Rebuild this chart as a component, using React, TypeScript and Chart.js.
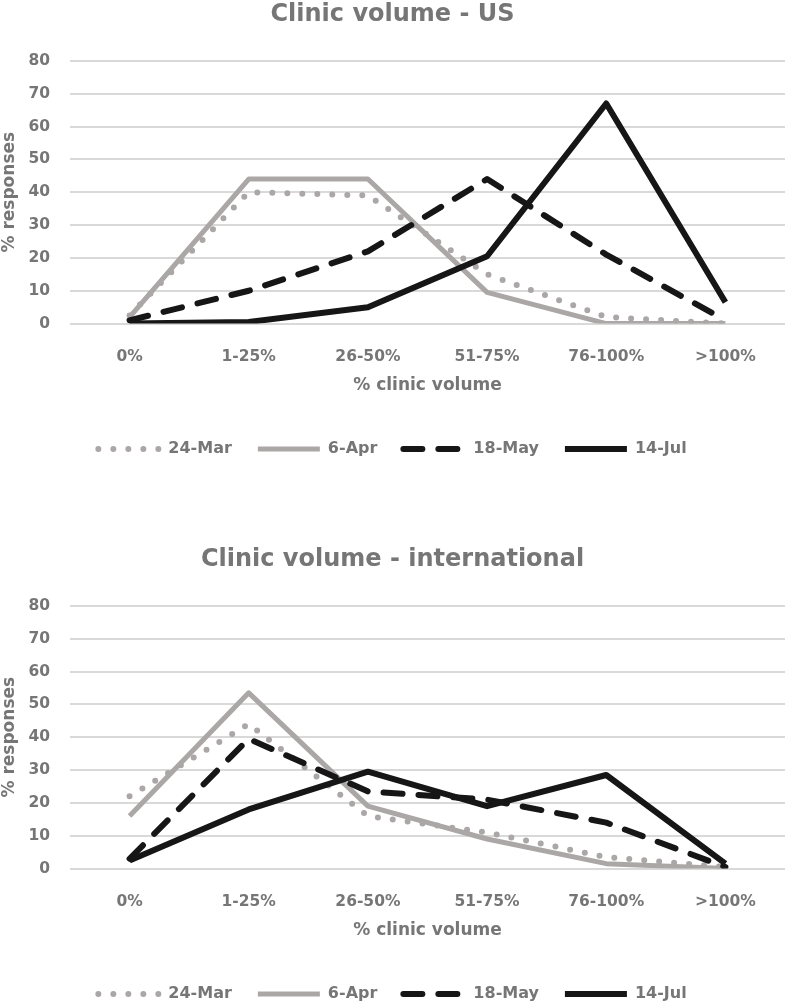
import React, { useEffect, useRef } from 'react';
import { Chart, registerables } from 'chart.js';

Chart.register(...registerables);

// ---- data ----
const categories = ['0%', '1-25%', '26-50%', '51-75%', '76-100%', '>100%'];
const seriesNames = ['24-Mar', '6-Apr', '18-May', '14-Jul'];

const usMar24 = [2.5, 40, 39, 15, 2, 0];
const usApr6 = [2, 44, 44, 9.5, 0, 0];
const usMay18 = [1, 10, 22, 44, 21, 1];
const usJul14 = [0, 0.5, 5, 20.5, 67, 6.5];

const intlMar24 = [22, 44, 16, 11, 3.5, 0.5];
const intlApr6 = [16, 53.5, 19, 9, 1.5, 0];
const intlMay18 = [3, 39.5, 23.5, 21, 14, 0.5];
const intlJul14 = [2.5, 18, 29.5, 19, 28.5, 1.5];

const yMin = 0;
const yMax = 80;
const yStep = 10;

const usTitle = 'Clinic volume - US';
const intlTitle = 'Clinic volume - international';
const xTitle = '% clinic volume';
const yTitle = '% responses';

// ---- styles ----
const FONT = "'DejaVu Sans', sans-serif";
const TEXT = '#767676';
const GRAY = '#aba7a7';
const BLACK = '#161616';
const GRID = '#d9d9d9';

const seriesStyles = [
  { color: GRAY, width: 6, dash: [0, 15], cap: 'round' },
  { color: GRAY, width: 5, dash: [], cap: 'butt' },
  { color: BLACK, width: 6, dash: [19, 16], cap: 'round' },
  { color: BLACK, width: 6, dash: [], cap: 'butt' },
];

function buildConfig(title: string, series: number[][]) {
  const datasets = series.map((values, i) => {
    const s = seriesStyles[i];
    return {
      label: seriesNames[i],
      data: values,
      borderColor: s.color,
      backgroundColor: s.color,
      borderWidth: s.width,
      borderDash: s.dash,
      borderCapStyle: s.cap,
      borderJoinStyle: 'round',
      pointRadius: 0,
      pointHoverRadius: 0,
      tension: 0,
      fill: false,
      order: series.length - i,
    };
  });

  return {
    type: 'line',
    data: { labels: categories, datasets },
    options: {
      responsive: false,
      animation: false,
      devicePixelRatio: 1,
      layout: { padding: { top: 0, left: 0, right: 1, bottom: 0 } },
      plugins: {
        tooltip: { enabled: false },
        title: {
          display: true,
          text: title,
          color: TEXT,
          font: { family: FONT, size: 24, weight: 'bold', lineHeight: 1.2 },
          padding: { top: 0, bottom: 32 },
        },
        legend: {
          display: true,
          position: 'bottom',
          labels: {
            usePointStyle: true,
            pointStyleWidth: 62,
            boxHeight: 10,
            padding: 26,
            color: TEXT,
            font: { family: FONT, size: 16, weight: 'bold' },
            generateLabels: (chart: any) =>
              chart.data.datasets.map((ds: any, i: number) => ({
                text: ds.label,
                fillStyle: 'rgba(0,0,0,0)',
                strokeStyle: ds.borderColor,
                lineWidth: ds.borderWidth,
                lineDash: ds.borderDash,
                lineCap: ds.borderCapStyle,
                pointStyle: 'line',
                hidden: false,
                datasetIndex: i,
                fontColor: TEXT,
              })),
          },
        },
      },
      scales: {
        x: {
          type: 'category',
          offset: true,
          grid: { display: false, drawTicks: false },
          border: { display: false },
          ticks: {
            color: TEXT,
            padding: 24,
            maxRotation: 0,
            autoSkip: false,
            font: { family: FONT, size: 15.5, weight: 'bold' },
          },
          title: {
            display: true,
            text: xTitle,
            color: TEXT,
            font: { family: FONT, size: 17, weight: 'bold', lineHeight: 1.2 },
            padding: { top: -14.6, bottom: 19 },
          },
        },
        y: {
          min: yMin,
          max: yMax,
          grid: { color: GRID, lineWidth: 2, drawTicks: false },
          border: { display: false },
          ticks: {
            stepSize: yStep,
            color: TEXT,
            padding: 20,
            font: { family: FONT, size: 15.5, weight: 'bold' },
          },
          title: {
            display: true,
            text: yTitle,
            color: TEXT,
            font: { family: FONT, size: 17, weight: 'bold', lineHeight: 1.2 },
            padding: { top: -1, bottom: -11 },
          },
        },
      },
    },
  };
}

function ClinicChart({ title, series, top, height }: { title: string; series: number[][]; top: number; height: number }) {
  const ref = useRef<HTMLCanvasElement>(null);
  useEffect(() => {
    if (!ref.current) return;
    const chart = new Chart(ref.current, buildConfig(title, series) as any);
    return () => chart.destroy();
  }, [title, series, height]);
  return (
    <div style={{ position: 'absolute', left: 0, top, width: 786, height }}>
      <canvas ref={ref} width={786} height={height} style={{ width: 786, height, display: 'block' }} />
    </div>
  );
}

export default function App() {
  return (
    <div
      style={{
        position: 'fixed',
        left: 0,
        top: 0,
        width: 786,
        height: 1004,
        overflow: 'hidden',
        background: '#ffffff',
      }}
    >
      <ClinicChart title={usTitle} series={[usMar24, usApr6, usMay18, usJul14]} top={0} height={467} />
      <ClinicChart title={intlTitle} series={[intlMar24, intlApr6, intlMay18, intlJul14]} top={545} height={467} />
    </div>
  );
}
